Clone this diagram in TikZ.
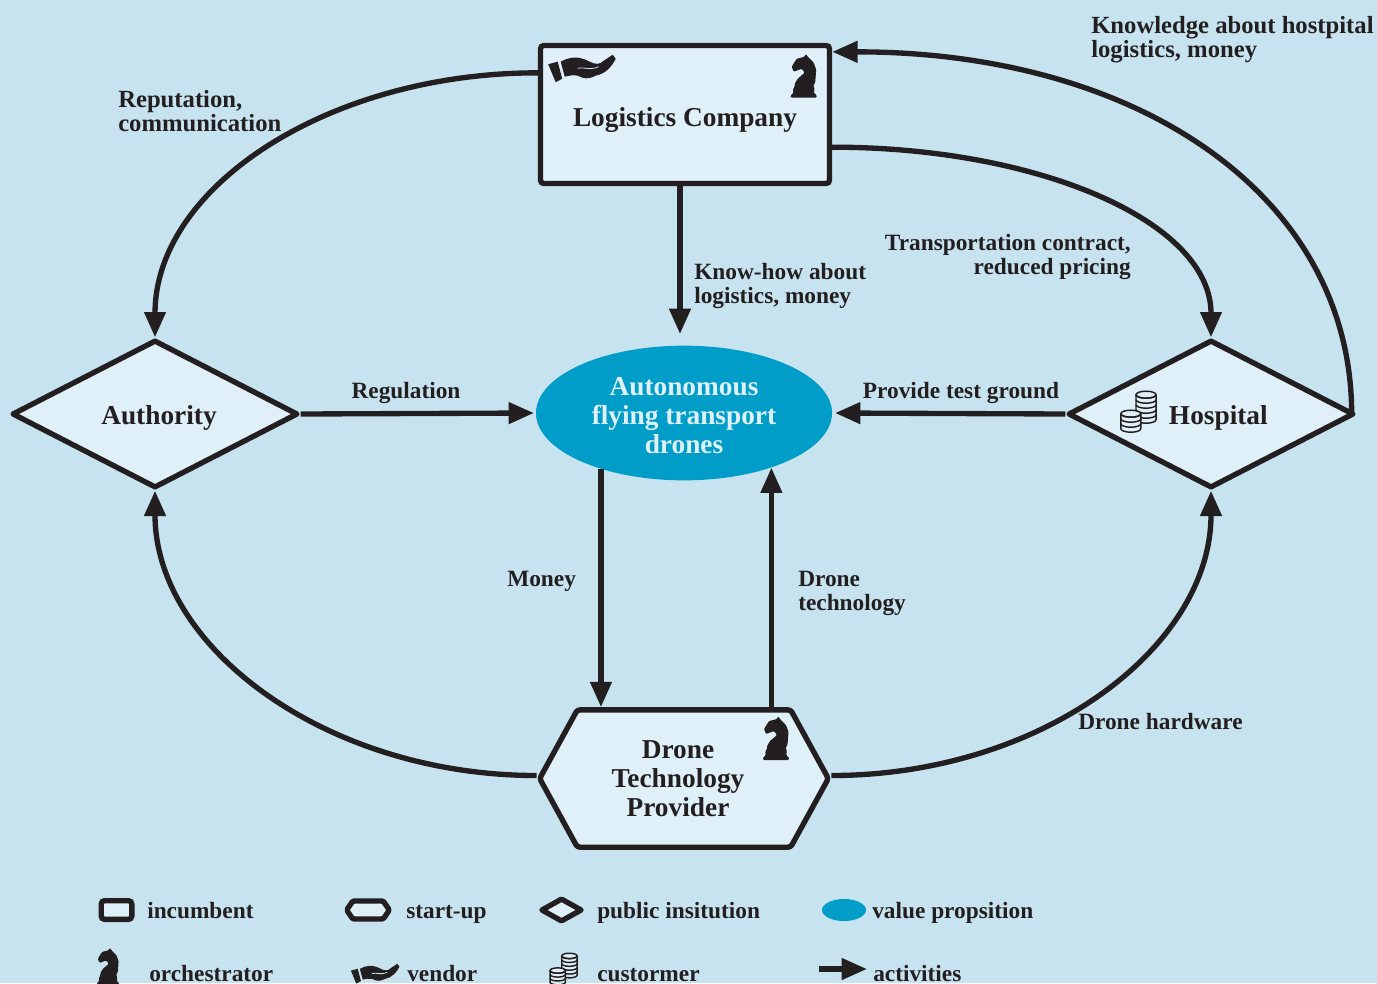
\documentclass[tikz,border=0pt]{standalone}
\usepackage{fontspec}
\setmainfont{Liberation Serif}
\usetikzlibrary{calc,arrows.meta,shapes.geometric,shapes.symbols}
\definecolor{pageblue}{HTML}{C7E3F0}
\definecolor{paleblue}{HTML}{E0F0F8}
\definecolor{valueblue}{HTML}{009DC8}
\definecolor{inkdark}{HTML}{231F20}
\newcommand{\textdrop}[1]{\rule{0pt}{#1}}
\tikzset{
	incumbentbox/.style={draw=inkdark, line width=4pt, fill=paleblue, rounded corners=2.5pt, inner sep=0pt, text=inkdark},
	startupbox/.style={shape=signal, signal to=west and east, signal pointer angle=122.5, draw=inkdark, line width=4pt, line join=round, fill=paleblue, rounded corners=2pt, inner sep=0pt, text=inkdark},
	publicbox/.style={shape=diamond, draw=inkdark, line width=4pt, line join=round, fill=paleblue, inner sep=0pt, text=inkdark},
	valuebox/.style={shape=ellipse, fill=valueblue, inner sep=0pt, text=paleblue},
	bigtext/.style={font=\fontsize{20.5}{21.75}\selectfont\bfseries, align=center},
	smalltext/.style={font=\fontsize{17.5}{18}\selectfont\bfseries, text=inkdark, inner sep=0pt},
	widetext/.style={font=\fontsize{18.5}{18}\selectfont\bfseries, text=inkdark, inner sep=0pt},
	flow/.style={draw=inkdark, line width=4pt, -{Triangle[length=19pt,width=15.5pt]}},
	knight/.pic={
		\fill[inkdark, rounded corners=0.8pt] (-13,0) -- (-13,-2.5) -- (-10,-5) -- (-11,-8) -- (-9,-11) -- (-9,-14) -- (-6,-19) -- (1,-25) -- (-2,-29) -- (-10,-26) -- (-12,-31) -- (-7,-39) -- (1,-41) -- (2,-44) -- (4,-41) -- (10,-35) -- (12.5,-28) -- (11.5,-15) -- (9.5,-12) -- (11,-9) -- (10,-5) -- (13,-2.5) -- (13,0) -- cycle;
	},
	hand/.pic={
		\fill[inkdark] (-33.5,-2.5) -- (-24,-5) -- (-19.5,12) -- (-26,15.5) -- cycle;
		\fill[inkdark] (-21,-5) .. controls (-12,-10) and (-3,-11) .. (8,-5) .. controls (14,-2) and (18,-2) .. (22,-6) -- (31,-12) -- (34,-8) .. controls (30,0) and (24,7) .. (14,9) .. controls (6,13) and (2,12) .. (-4,9) .. controls (-8,8) and (-13,9) .. (-17,10) -- cycle;
		\draw[pageblue, line width=0.6pt] (-4,1.5) .. controls (2,0) and (8,4) .. (17,0);
	},
	coins/.pic={
		\foreach \px/\py/\nn in {7.7/-17/5,-7.5/2/3}{
			\fill[paleblue] (\px-10,\py) rectangle (\px+10,\py+\nn*5);
			\draw[inkdark, line width=1.1pt, fill=paleblue] (\px,\py) ellipse (10 and 3.5);
			\draw[inkdark, line width=1.1pt] (\px-10,\py) -- (\px-10,\py+\nn*5) arc (180:0:10 and 3.5) -- (\px+10,\py);
			\foreach \kk in {1,...,\nn}{
				\draw[inkdark, line width=1.1pt] (\px+10,\py+\kk*5-5) arc (0:180:10 and 3.5);
			}
		}
	},
}
\begin{document}
\begin{tikzpicture}[x=0.75pt, y=-0.75pt]
	%%%%% BACKGROUND %%%%%
	\useasboundingbox (0,0) rectangle (1377,983);
	\fill[pageblue] (0,0) rectangle (1377,983);

	%%%%% ACTORS %%%%%
	\node[incumbentbox, bigtext, minimum width=216.75pt, minimum height=103.5pt] (logistics) at (685,114.5) {\textdrop{23pt}Logistics Company};
	\node[publicbox, bigtext, minimum width=214.5pt, minimum height=111pt] (authority) at (155,414) {\textdrop{19.5pt}\makebox[0pt]{\hspace{6pt}Authority}};
	\node[publicbox, bigtext, minimum width=214.5pt, minimum height=111pt] (hospital) at (1211,414) {\textdrop{19.5pt}\makebox[0pt]{\hspace{11pt}Hospital}};
	\node[valuebox, bigtext, minimum width=222pt, minimum height=101pt] (value) at (684,413) {\textdrop{17pt}Autonomous\\flying transport\\drones};
	\node[startupbox, bigtext, minimum width=216.5pt, minimum height=103pt] (drone) at (684,778.5) {Drone\rule{9pt}{0pt}\\Technology\rule{9pt}{0pt}\\Provider\rule{9pt}{0pt}};

	\pic at (581.7,66.7) {hand};
	\pic at (803.7,97.7) {knight};
	\pic at (776,760) {knight};
	\pic at (1138.3,411.7) {coins};

	%%%%% ACTIVITIES %%%%%
	\coordinate (knowhowtip) at (680,334);
	\coordinate (regulationtip) at (534,413);
	\coordinate (testtip) at (835,413);

	\draw[flow] ($(logistics.north west)+(0,30)$) .. controls +(-210,0) and +(0,-150) .. (authority.north);
	\draw[flow] ($(logistics.south east)+(0,-39)$) .. controls +(208,0) and +(0,-115) .. (hospital.north);
	\draw[flow] ($(hospital.east)+(-5,0)$) .. controls +(0,-215) and +(311,0) .. ($(logistics.north east)+(0,9)$);
	\draw[flow] (knowhowtip |- logistics.south) -- (knowhowtip);
	\draw[flow] (authority.east) -- (regulationtip);
	\draw[flow] (hospital.west) -- (testtip);
	\draw[flow] (value.214.75) -- (value.214.75 |- drone.north);
	\draw[flow] (value.-32.4 |- drone.north) -- (value.-32.4);
	\draw[flow] ($(drone.west)+(0,-3)$) .. controls +(-210,0) and +(0,157) .. (authority.south);
	\draw[flow] ($(drone.east)+(0,-3)$) .. controls +(210,0) and +(0,157) .. (hospital.south);

	%%%%% LABELS %%%%%
	\node[widetext, anchor=west, align=left] (reputationlabel) at (118,111) {Reputation,\\communication};
	\node[widetext, anchor=west, align=left] (knowledgelabel) at (1091,40) {Knowledge about hostpital\\logistics, money};
	\node[smalltext, anchor=west, align=left] (knowhowlabel) at (694,286) {Know-how about\\logistics, money};
	\node[smalltext, anchor=east, align=right] (contractlabel) at (1131,257) {Transportation contract,\\reduced pricing};
	\node[smalltext] (regulationlabel) at (406,393) {Regulation};
	\node[smalltext] (testlabel) at (961,393) {Provide test ground};
	\node[smalltext, anchor=west] (moneylabel) at (507,581) {Money};
	\node[smalltext, anchor=west, align=left] (technologylabel) at (798,593) {Drone\\technology};
	\node[smalltext, anchor=west] (hardwarelabel) at (1078,722) {Drone hardware};

	%%%%% LEGEND %%%%%
	\node[incumbentbox, minimum width=23pt, minimum height=14pt] (incumbentkey) at (116.5,910) {};
	\node[startupbox, rounded corners=1pt, signal pointer angle=112, minimum width=32pt, minimum height=13.5pt] (startupkey) at (368,910) {};
	\node[publicbox, minimum width=31pt, minimum height=18pt] (publickey) at (561.5,910) {};
	\node[valuebox, minimum width=33pt, minimum height=16.5pt] (valuekey) at (844,910) {};
	\pic[scale=0.85] at (108,985) {knight};
	\pic[scale=0.72] at (375,972.4) {hand};
	\pic[scale=0.77] at (563.5,969) {coins};
	\coordinate (activitiestail) at (819,969);
	\coordinate (activitieshead) at (867,969);
	\draw[flow] (activitiestail) -- (activitieshead);

	\node[smalltext, anchor=base west] (incumbenttext) at (147,918) {incumbent};
	\node[smalltext, anchor=base west] (startuptext) at (406,918) {start-up};
	\node[smalltext, anchor=base west] (publictext) at (597,918) {public insitution};
	\node[smalltext, anchor=base west] (valuetext) at (872,918) {value propsition};
	\node[smalltext, anchor=base west] (orchestratortext) at (149,981) {orchestrator};
	\node[smalltext, anchor=base west] (vendortext) at (407,981) {vendor};
	\node[smalltext, anchor=base west] (customertext) at (597,981) {custormer};
	\node[smalltext, anchor=base west] (activitiestext) at (873,981) {activities};
\end{tikzpicture}
\end{document}
